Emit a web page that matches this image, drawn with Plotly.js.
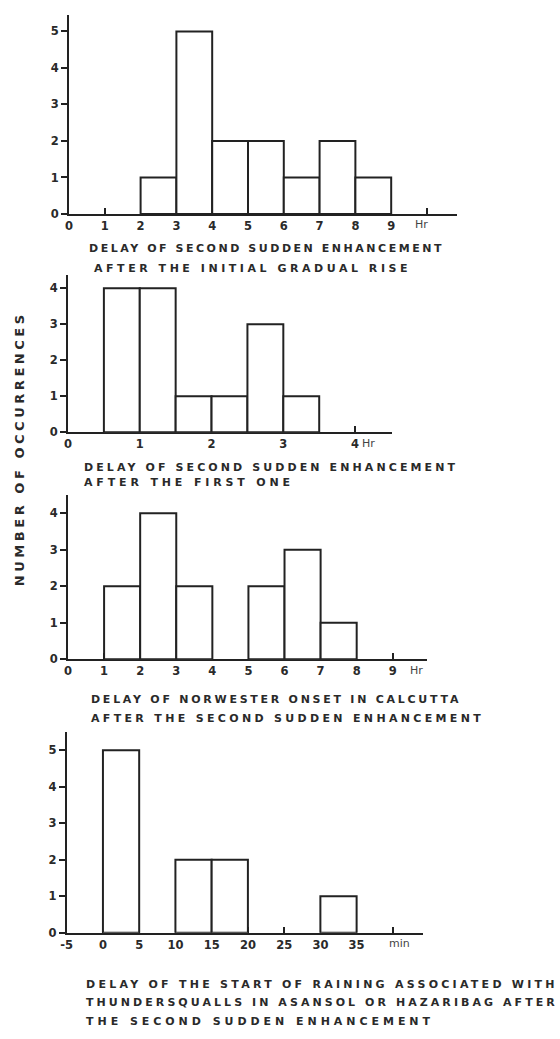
<!DOCTYPE html>
<html>
<head>
<meta charset="utf-8">
<script src="https://cdn.plot.ly/plotly-3.0.1.min.js"></script>
<style>
  html, body { margin: 0; padding: 0; background: #ffffff; }
  #chart { width: 560px; height: 1039px; }
</style>
</head>
<body>
<div id="chart"></div>
<script>
// Delay of second sudden enhancement after the initial gradual rise (hours)
const riseBinStart = [2, 3, 4, 5, 6, 7, 8];
const riseCounts   = [1, 5, 2, 2, 1, 2, 1];
const riseBinWidth = 1;
const riseTickVals = [0, 1, 2, 3, 4, 5, 6, 7, 8, 9, 10];
const riseTickText = ["0", "1", "2", "3", "4", "5", "6", "7", "8", "9", ""];
const riseCountTicks = [0, 1, 2, 3, 4, 5];

// Delay of second sudden enhancement after the first one (hours)
const firstBinStart = [0.5, 1, 1.5, 2, 2.5, 3];
const firstCounts   = [4, 4, 1, 1, 3, 1];
const firstBinWidth = 0.5;
const firstTickVals = [0, 1, 2, 3, 4];
const firstTickText = ["0", "1", "2", "3", "4"];
const firstCountTicks = [0, 1, 2, 3, 4];

// Delay of norwester onset in Calcutta after the second sudden enhancement (hours)
const onsetBinStart = [1, 2, 3, 5, 6, 7];
const onsetCounts   = [2, 4, 2, 2, 3, 1];
const onsetBinWidth = 1;
const onsetTickVals = [0, 1, 2, 3, 4, 5, 6, 7, 8, 9];
const onsetTickText = ["0", "1", "2", "3", "4", "5", "6", "7", "8", "9"];
const onsetCountTicks = [0, 1, 2, 3, 4];

// Delay of the start of raining with thundersqualls in Asansol or Hazaribag (minutes)
const rainBinStart = [0, 10, 15, 30];
const rainCounts   = [5, 2, 2, 1];
const rainBinWidth = 5;
const rainTickVals = [-5, 0, 5, 10, 15, 20, 25, 30, 35, 40];
const rainTickText = ["-5", "0", "5", "10", "15", "20", "25", "30", "35", ""];
const rainCountTicks = [0, 1, 2, 3, 4, 5];

const unitLabels = ["Hr", "Hr", "Hr", "min"];

const captions = [
  ["DELAY OF SECOND SUDDEN ENHANCEMENT", "AFTER THE INITIAL GRADUAL RISE"],
  ["DELAY OF SECOND SUDDEN ENHANCEMENT", "AFTER THE FIRST ONE"],
  ["DELAY OF NORWESTER ONSET IN CALCUTTA", "AFTER THE SECOND SUDDEN ENHANCEMENT"],
  ["DELAY OF THE START OF RAINING ASSOCIATED WITH",
   "THUNDERSQUALLS IN ASANSOL OR HAZARIBAG AFTER",
   "THE SECOND SUDDEN ENHANCEMENT"]
];
const yTitle = "NUMBER OF OCCURRENCES";

// ---------- drawing ----------
const W = 560, H = 1039;
const INK = "#222222";
const tickFont = { family: "DejaVu Sans", size: 11.5, color: "#2a2a2a", weight: "bold" };
const capFont  = { family: "DejaVu Sans", size: 11, color: "#2a2a2a", weight: "bold" };

const px = v => v / W;
const py = v => (H - v) / H;

// panel frames in pixels: left, right, axis line, top of count axis
const frames = [
  { l: 69,   r: 456.7, b: 214,   t: 15,  xr: [0, 10.83], yr: [0, 5.45] },
  { l: 68,   r: 391.7, b: 432.3, t: 275, xr: [0, 4.51],  yr: [0, 4.37] },
  { l: 68,   r: 426.7, b: 659.3, t: 495, xr: [0, 9.94],  yr: [0, 4.5] },
  { l: 66.7, r: 423.3, b: 932.7, t: 732, xr: [-5, 44.2], yr: [0, 5.5] }
];

const panels = [
  { s: riseBinStart,  c: riseCounts,  w: riseBinWidth,  tv: riseTickVals,  tt: riseTickText,  yt: riseCountTicks },
  { s: firstBinStart, c: firstCounts, w: firstBinWidth, tv: firstTickVals, tt: firstTickText, yt: firstCountTicks },
  { s: onsetBinStart, c: onsetCounts, w: onsetBinWidth, tv: onsetTickVals, tt: onsetTickText, yt: onsetCountTicks },
  { s: rainBinStart,  c: rainCounts,  w: rainBinWidth,  tv: rainTickVals,  tt: rainTickText,  yt: rainCountTicks }
];

const traces = [];
const layout = {
  width: W, height: H,
  margin: { l: 0, r: 0, t: 0, b: 0 },
  paper_bgcolor: "#ffffff",
  plot_bgcolor: "rgba(0,0,0,0)",
  showlegend: false,
  annotations: []
};

panels.forEach((p, i) => {
  const n = i === 0 ? "" : String(i + 1);
  const f = frames[i];
  traces.push({
    type: "bar",
    x: p.s, y: p.c,
    width: p.w, offset: 0,
    xaxis: "x" + n, yaxis: "y" + n,
    marker: { color: "#ffffff", line: { color: INK, width: 2 } },
    hoverinfo: "skip"
  });
  layout["xaxis" + n] = {
    anchor: "y" + n,
    domain: [px(f.l), px(f.r)],
    range: f.xr,
    showline: true, linecolor: INK, linewidth: 2,
    showgrid: false, zeroline: false,
    layer: "below traces",
    tickmode: "array", tickvals: p.tv, ticktext: p.tt,
    ticks: "inside", ticklen: 6, tickwidth: 1.5, tickcolor: INK,
    tickfont: tickFont, fixedrange: true
  };
  layout["yaxis" + n] = {
    anchor: "x" + n,
    domain: [py(f.b), py(f.t)],
    range: f.yr,
    showline: true, linecolor: INK, linewidth: 2,
    showgrid: false, zeroline: false,
    layer: "below traces",
    tickmode: "array", tickvals: p.yt,
    ticks: "outside", ticklen: 6, tickwidth: 2, tickcolor: INK,
    tickfont: tickFont, fixedrange: true
  };
});

// unit labels at the right end of each time axis: center x, center y
const unitPos = [[421.7, 225], [368, 443], [416.7, 670], [399, 943]];
unitLabels.forEach((u, i) => {
  layout.annotations.push({
    text: u, xref: "paper", yref: "paper",
    x: px(unitPos[i][0]), y: py(unitPos[i][1]),
    xanchor: "center", yanchor: "middle", showarrow: false,
    font: { family: "DejaVu Sans", size: 11, color: "#444" }
  });
});

// caption lines: left, center y, right
const capPos = [
  [[88, 248, 443], [93, 268, 410]],
  [[83, 467, 457], [83, 483, 293]],
  [[90, 699, 460], [90, 718, 483]],
  [[85, 984, 557], [85, 1002, 557], [85, 1021, 433]]
];
const fitWidths = [];
captions.forEach((lines, i) => {
  lines.forEach((t, j) => {
    const [l, y, r] = capPos[i][j];
    fitWidths[layout.annotations.length] = r - l;
    layout.annotations.push({
      text: t, xref: "paper", yref: "paper",
      x: px(l), y: py(y),
      xanchor: "left", yanchor: "middle", align: "left",
      showarrow: false, borderpad: 0, font: capFont
    });
  });
});

// shared vertical count label
fitWidths[layout.annotations.length] = 275;
layout.annotations.push({
  text: yTitle, xref: "paper", yref: "paper",
  x: px(20), y: py(449), textangle: -90,
  xanchor: "center", yanchor: "middle", showarrow: false, borderpad: 0,
  font: { family: "DejaVu Sans", size: 13, color: "#2a2a2a", weight: "bold" }
});

Plotly.newPlot("chart", traces, layout, { staticPlot: true }).then(() => {
  // spread the stencil-style lettering to its lettered width
  document.querySelectorAll("#chart g.annotation").forEach(g => {
    const idx = +g.getAttribute("data-index");
    const target = fitWidths[idx];
    if (!target) return;
    const t = g.querySelector("text.annotation-text");
    const natural = t.getComputedTextLength();
    const nChars = t.textContent.length;
    const sp = Math.max(0, (target - natural) / nChars);
    t.style.letterSpacing = sp.toFixed(2) + "px";
  });
});
</script>
</body>
</html>
